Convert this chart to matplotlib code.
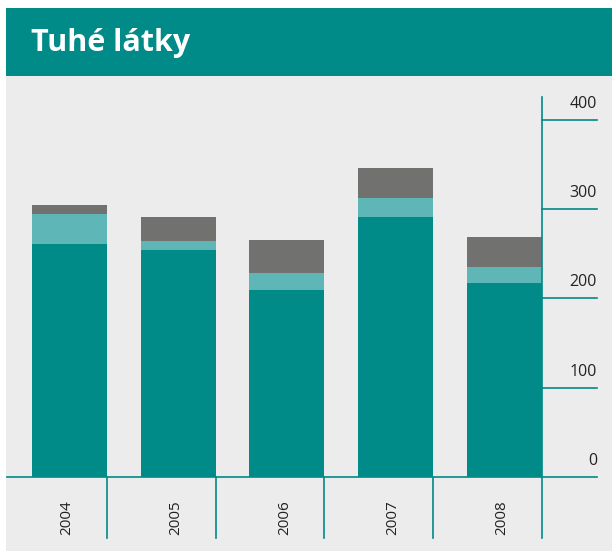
import matplotlib
matplotlib.use("Agg")
import matplotlib.pyplot as plt
from matplotlib.patches import Rectangle

years = ["2004", "2005", "2006", "2007", "2008"]
zakladni = [261, 254, 209, 291, 217]     # tmavě tyrkysová
stredni = [33, 10, 19, 21, 18]           # světle tyrkysová
horni = [11, 27, 37, 34, 34]             # šedá
yticks = [0, 100, 200, 300, 400]

TEAL = "#008a88"
LIGHT = "#5fb6b6"
GRAY = "#71716f"
BG = "#ececec"

W, H = 612, 551
PX_X = 108.75          # px na jednu kategorii
X0 = 5 - 542 / PX_X    # osa vpravo leží na x = 542 px
PX_Y = 0.893           # px na jednotku
Y_ZERO = 477           # px od horního okraje

fig = plt.figure(figsize=(W / 100, H / 100), dpi=100, facecolor="white")
ax = fig.add_axes([0, 0, 1, 1])
ax.set_facecolor("none")
ax.set_xlim(X0, X0 + W / PX_X)
ax.set_ylim(-(H - Y_ZERO) / PX_Y, Y_ZERO / PX_Y)
ax.axis("off")

# pozadí a záhlaví
ax.add_patch(Rectangle((6 / W, 0), 1, (H - 76) / H, transform=ax.transAxes,
                       facecolor=BG, edgecolor="none", zorder=0))
ax.add_patch(Rectangle((6 / W, (H - 76) / H), 1, 68 / H, transform=ax.transAxes,
                       facecolor=TEAL, edgecolor="none", zorder=0))
ax.text(31 / W, (H - 43) / H, "Tuhé látky", transform=ax.transAxes,
        color="white", fontsize=22, fontweight="bold", family="Open Sans",
        va="center", ha="left")

x = [i + 0.31 for i in range(len(years))]
ax.bar(x, zakladni, width=0.69, align="edge", color=TEAL, zorder=2)
ax.bar(x, stredni, width=0.69, align="edge", bottom=zakladni, color=LIGHT, zorder=2)
b2 = [a + b for a, b in zip(zakladni, stredni)]
ax.bar(x, horni, width=0.69, align="edge", bottom=b2, color=GRAY, zorder=2)

# osa vpravo
x_axis = len(years)
x_tick_end = x_axis + 55 / PX_X
y_low = -(538 - Y_ZERO) / PX_Y
ax.plot([x_axis, x_axis], [(Y_ZERO - 97) / PX_Y, y_low], color=TEAL, lw=1.2, zorder=3)
for t in yticks:
    x_start = X0 + 7 / PX_X if t == 0 else x_axis
    ax.plot([x_start, x_tick_end], [t, t], color=TEAL, lw=1.2, zorder=3)
    ax.text(x_tick_end, t + 9, str(t), ha="right", va="bottom",
            fontsize=11.5, family="Open Sans", color="#222222")

# oddělovače a popisky let
for i in range(1, len(years)):
    ax.plot([i, i], [0, y_low], color=TEAL, lw=1.2, zorder=3)
for i, y in enumerate(years):
    ax.text(i + 0.63, -46, y, rotation=90, ha="center", va="center",
            fontsize=11, family="Open Sans", color="#222222")

fig.savefig("out.png", dpi=100, facecolor="white")
